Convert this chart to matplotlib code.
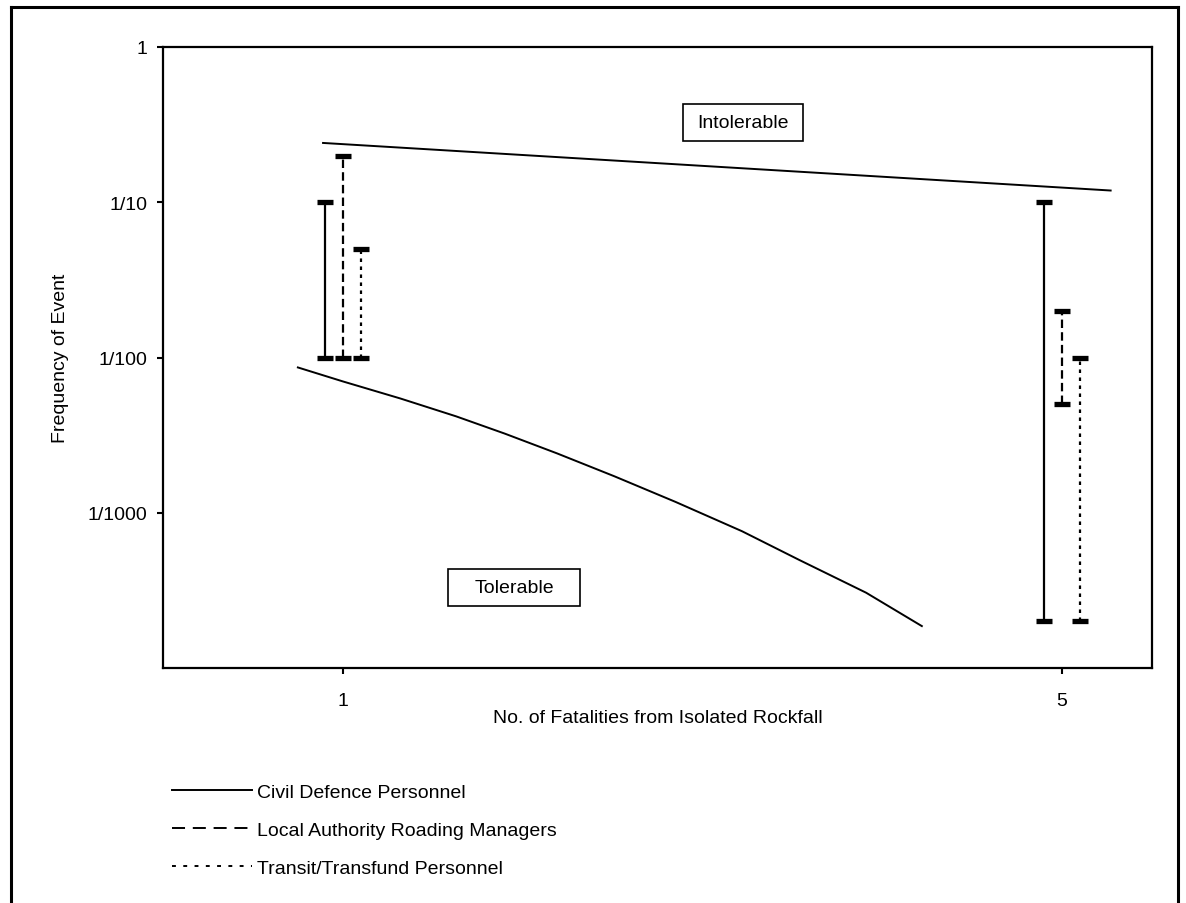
import matplotlib.pyplot as plt
from matplotlib.lines import Line2D
from matplotlib.patches import Rectangle

plt.rcParams['font.family'] = ['Liberation Sans', 'DejaVu Sans']

# boundary lines (x = fatalities, y = frequency)
upper_x = [0.89, 5.27]
upper_y = [0.241, 0.119]
lower_x = [0.75, 1.0, 1.32, 1.63, 1.9, 2.19, 2.51, 2.85, 3.22, 3.54, 3.91, 4.22]
lower_y = [10**-2.064, 10**-2.154, 10**-2.264, 10**-2.379, 10**-2.49, 10**-2.617,
           10**-2.765, 10**-2.93, 10**-3.119, 10**-3.305, 10**-3.515, 10**-3.73]

# ranges given by each group: x position, low, high
groups = ['Civil Defence Personnel', 'Local Authority Roading Managers',
          'Transit/Transfund Personnel']
range_x = [[0.9, 4.9], [1.0, 5.0], [1.1, 5.1]]
range_lo = [[1/100, 1/5000], [1/100, 1/200], [1/100, 1/5000]]
range_hi = [[1/10, 1/10], [1/5, 1/50], [1/20, 1/100]]

styles = ['-', (0, (3.8, 1.9)), (0, (1.6, 2.0))]
legend_styles = ['-', (0, (6.7, 4.0)), (0, (2.0, 3.8))]
fs = 14

fig = plt.figure(figsize=(11.86, 9.04), dpi=100)
ax = fig.add_axes([163/1186, 1 - 669/904, 989/1186, 621/904])

ax.plot(upper_x, upper_y, color='black', lw=1.4)
ax.plot(lower_x, lower_y, color='black', lw=1.4)

for i in range(3):
    for x, lo, hi in zip(range_x[i], range_lo[i], range_hi[i]):
        ax.plot([x, x], [lo, hi], color='black', lw=1.6, linestyle=styles[i])
        ax.plot([x, x], [lo, hi], linestyle='none', marker='_', ms=11,
                mew=3.8, color='black')

ax.set_yscale('log')
ax.set_ylim(1e-4, 1)
ax.set_xlim(0, 5.5)
ax.set_yticks([1, 0.1, 0.01, 0.001])
ax.set_yticklabels(['1', '1/10', '1/100', '1/1000'])
ax.minorticks_off()
ax.set_xticks([1, 5])
ax.set_xticklabels(['1', '5'])
ax.tick_params(direction='out', length=4.3, width=1.5, labelsize=fs)
ax.tick_params(axis='x', pad=13)
ax.tick_params(axis='y', pad=7)
for s in ax.spines.values():
    s.set_linewidth(1.6)

ax.set_ylabel('Frequency of Event', fontsize=fs)
ax.yaxis.set_label_coords(-0.095, 0.5)
ax.set_xlabel('No. of Fatalities from Isolated Rockfall', fontsize=fs)
ax.xaxis.set_label_coords(0.5, -0.066)

# region labels in boxes
ax.add_patch(Rectangle(((683-163)/989, (669-142)/621), 120/989, 37/621,
                       transform=ax.transAxes, fc='white', ec='black', lw=1.2))
ax.text((743-163)/989, (669-123)/621, 'Intolerable', transform=ax.transAxes,
        ha='center', va='center', fontsize=fs)
ax.add_patch(Rectangle(((448-163)/989, (669-607)/621), 132/989, 37/621,
                       transform=ax.transAxes, fc='white', ec='black', lw=1.2))
ax.text((514-163)/989, (669-589)/621, 'Tolerable', transform=ax.transAxes,
        ha='center', va='center', fontsize=fs)

handles = [Line2D([], [], color='black', lw=1.4, linestyle=s) for s in legend_styles]
fig.legend(handles, groups, loc='upper left', bbox_to_anchor=(172/1186, 1 - 784/904),
           frameon=False, fontsize=fs, handlelength=4.1, handletextpad=0.26,
           labelspacing=1.05, borderpad=0, borderaxespad=0)

# outer frame
fig.add_artist(Line2D([11/1186, 11/1186], [0, 1 - 8/904], transform=fig.transFigure,
                      color='black', lw=2.2))
fig.add_artist(Line2D([11/1186, 1178/1186], [1 - 8/904, 1 - 8/904],
                      transform=fig.transFigure, color='black', lw=2.2))
fig.add_artist(Line2D([1178/1186, 1178/1186], [0, 1 - 8/904], transform=fig.transFigure,
                      color='black', lw=2.2))

fig.savefig('out.png', dpi=100)
